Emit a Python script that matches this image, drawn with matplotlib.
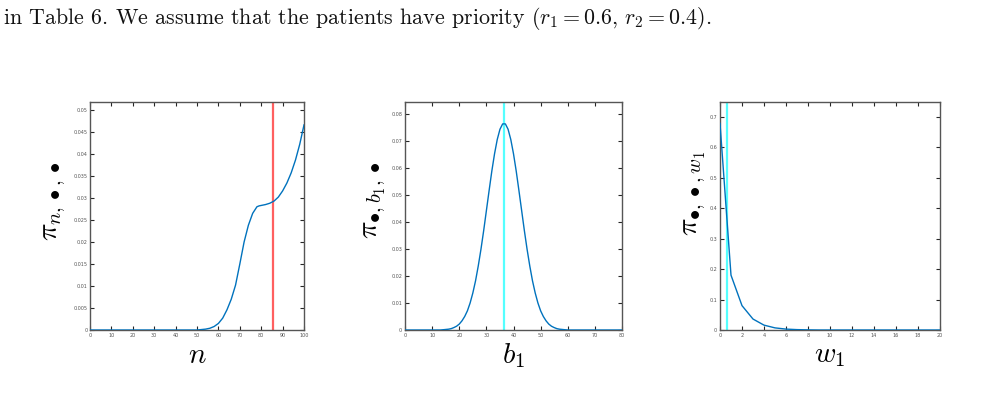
import numpy as np
import matplotlib
matplotlib.use("Agg")
import matplotlib.pyplot as plt

plt.rcParams['mathtext.fontset'] = 'cm'

# --- data ---
n_vals = list(range(0, 50, 2)) + [50, 52, 54, 56, 58, 60, 62, 64, 66, 68, 70, 72, 74, 76,
                                  78, 79, 80, 82, 84, 86, 88, 90, 92, 94, 96, 98, 100]
pi_n = [0.0] * 25 + [0.0, 0.0001, 0.0002, 0.0004, 0.0008, 0.0015, 0.0027, 0.0046, 0.0070,
                     0.0102, 0.0150, 0.0200, 0.0238, 0.0265, 0.0280, 0.0282, 0.0283,
                     0.0285, 0.0288, 0.0293, 0.0302, 0.0316, 0.0334, 0.0357, 0.0386,
                     0.0422, 0.0466]
n_mark = 85.6

b_vals = list(range(0, 81))
pi_b = ([0.0] * 14 +
        [0.0001, 0.0002, 0.0003, 0.0005, 0.0009, 0.0014, 0.0022, 0.0034, 0.0050, 0.0071,
         0.0100, 0.0137, 0.0182, 0.0237, 0.0299, 0.0368, 0.0442, 0.0516, 0.0588, 0.0652,
         0.0705, 0.0743, 0.0763, 0.0763, 0.0743, 0.0705, 0.0652, 0.0588, 0.0516, 0.0442,
         0.0368, 0.0299, 0.0237, 0.0182, 0.0137, 0.0100, 0.0071, 0.0050, 0.0034, 0.0022,
         0.0014, 0.0009, 0.0005, 0.0003, 0.0002, 0.0001] +
        [0.0] * 21)
b_mark = 36.5

w_vals = list(range(0, 21))
pi_w = [0.678, 0.180, 0.080, 0.036, 0.016, 0.007, 0.003, 0.0013, 0.0005] + [0.0] * 12
w_mark = 0.62

fig = plt.figure(figsize=(10.06, 3.94), dpi=100)

fig.text(0.003, 0.952, r"in Table 6. We assume that the patients have priority ($r_1 = 0.6$, $r_2 = 0.4$).",
         fontsize=15.8, family='cmr10', va='center', ha='left', color='#111111')

blue = '#0072BD'
panels = [
    dict(rect=[0.0895, 0.1624, 0.2127, 0.5787], x=n_vals, y=pi_n, mark=n_mark, mcol='#FF6060',
         xlim=(0, 100), ylim=(0, 0.0518), xt=np.arange(0, 101, 10), yt=np.arange(0, 0.0501, 0.005),
         ylabs=['0', '0.005', '0.01', '0.015', '0.02', '0.025', '0.03', '0.035', '0.04', '0.045', '0.05'],
         xlabel=r'$n$', ylabel=r'$\pi_{n,\bullet,\bullet}$', lx=-0.103, ly=0.565),
    dict(rect=[0.4026, 0.1624, 0.2157, 0.5787], x=b_vals, y=pi_b, mark=b_mark, mcol='#55FFFF',
         xlim=(0, 80), ylim=(0, 0.0844), xt=np.arange(0, 81, 10), yt=np.arange(0, 0.0801, 0.01),
         ylabs=['0', '0.01', '0.02', '0.03', '0.04', '0.05', '0.06', '0.07', '0.08'],
         xlabel=r'$b_1$', ylabel=r'$\pi_{\bullet,b_1,\bullet}$', lx=-0.078, ly=0.57),
    dict(rect=[0.7157, 0.1624, 0.2187, 0.5787], x=w_vals, y=pi_w, mark=w_mark, mcol='#55FFFF',
         xlim=(0, 20), ylim=(0, 0.748), xt=np.arange(0, 21, 2), yt=np.arange(0, 0.71, 0.1),
         ylabs=['0', '0.1', '0.2', '0.3', '0.4', '0.5', '0.6', '0.7'],
         xlabel=r'$w_1$', ylabel=r'$\pi_{\bullet,\bullet,w_1}$', lx=-0.055, ly=0.6),
]

for p in panels:
    ax = fig.add_axes(p['rect'])
    ax.plot(p['x'], p['y'], color=blue, lw=1.0, zorder=3)
    ax.axvline(p['mark'], color=p['mcol'], lw=1.6, zorder=2)
    ax.set_xlim(*p['xlim'])
    ax.set_ylim(*p['ylim'])
    ax.set_xticks(p['xt'])
    ax.set_xticklabels([str(int(v)) for v in p['xt']])
    ax.set_yticks(p['yt'])
    ax.set_yticklabels(p['ylabs'])
    ax.tick_params(direction='in', top=True, right=True, length=3, width=0.8,
                   labelsize=3.5, labelcolor='#555555', color='#262626', pad=2)
    for s in ax.spines.values():
        s.set_color('#555555')
        s.set_linewidth(1.0)
    ax.set_xlabel(p['xlabel'], fontsize=21, labelpad=2)
    ax.set_ylabel(p['ylabel'], fontsize=21)
    ax.yaxis.set_label_coords(p['lx'], p['ly'])

fig.savefig('out.png', dpi=100)
